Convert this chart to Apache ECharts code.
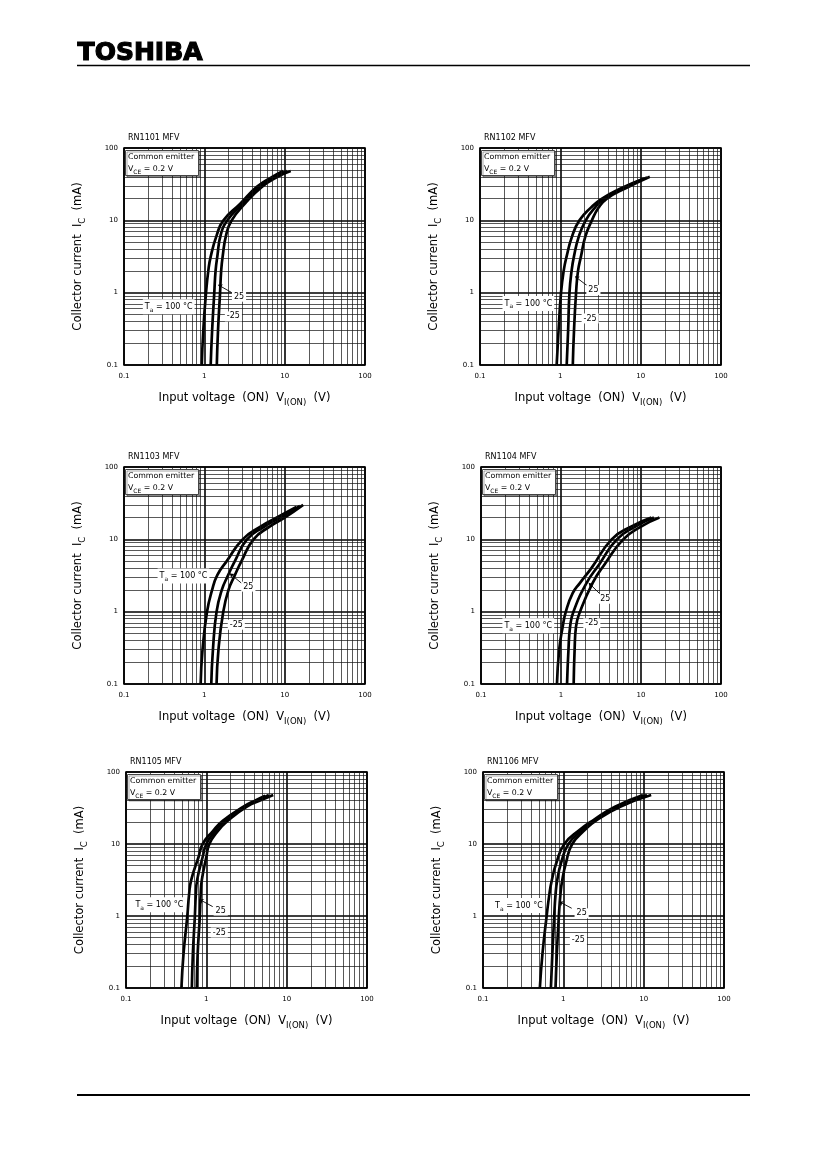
<!DOCTYPE html>
<html>
<head>
<meta charset="utf-8">
<script src="https://cdn.jsdelivr.net/npm/echarts@6/dist/echarts.min.js"></script>
<style>
html, body { margin: 0; padding: 0; background: #fff; }
#main { width: 827px; height: 1169px; }
</style>
</head>
<body>
<div id="main"></div>
<script>
// chart titles and tick labels
var chartNames = ['RN1101 MFV', 'RN1102 MFV', 'RN1103 MFV', 'RN1104 MFV', 'RN1105 MFV', 'RN1106 MFV'];
var xTickLabels = ['0.1', '1', '10', '100'];
var yTickLabels = ['0.1', '1', '10', '100'];
// minor grid values (2..9 of each decade)
var minorTicks = [0.2, 0.3, 0.4, 0.5, 0.6, 0.7, 0.8, 0.9, 2, 3, 4, 5, 6, 7, 8, 9, 20, 30, 40, 50, 60, 70, 80, 90];

// [V_I(ON) (V), I_C (mA)] for Ta = 100, 25, -25
var c1_t100 = [[0.93, 0.1], [0.97, 0.3], [1.05, 1], [1.12, 2], [1.2, 3.15], [1.43, 6.3], [1.73, 10], [2.8, 17], [4.5, 29], [7, 40], [9.6, 48]];
var c1_t25 = [[1.2, 0.1], [1.25, 0.3], [1.33, 1], [1.38, 2], [1.45, 3.15], [1.6, 6.3], [1.94, 10], [3.0, 17], [4.8, 29], [7.5, 40], [10.7, 48]];
var c1_tm25 = [[1.43, 0.1], [1.48, 0.3], [1.57, 1], [1.62, 2], [1.69, 3.15], [1.87, 6.3], [2.19, 10], [3.2, 17], [5.2, 29], [8.2, 40], [11.9, 48]];

var c2_t100 = [[0.9, 0.1], [0.95, 0.3], [1.02, 1], [1.1, 2], [1.2, 3.2], [1.4, 6], [1.73, 10], [2.4, 15], [3.3, 20], [5.8, 28], [11, 38]];
var c2_t25 = [[1.2, 0.1], [1.25, 0.3], [1.3, 1], [1.38, 2], [1.48, 3.2], [1.7, 6], [2.07, 10], [2.7, 15], [3.5, 20], [6.2, 28], [12, 39]];
var c2_tm25 = [[1.43, 0.1], [1.48, 0.3], [1.57, 1], [1.66, 2], [1.81, 3.2], [2.05, 6], [2.47, 10], [3.0, 15], [3.8, 20], [6.6, 28], [13, 40]];

var c3_t100 = [[0.9, 0.1], [0.95, 0.3], [1.08, 1], [1.25, 2], [1.45, 3.2], [1.9, 5], [3.0, 10], [5, 15], [8, 20], [14, 28]];
var c3_t25 = [[1.22, 0.1], [1.28, 0.3], [1.42, 1], [1.65, 2], [1.98, 3.2], [2.4, 5], [3.4, 10], [5.6, 15], [8.8, 20], [15.5, 29]];
var c3_tm25 = [[1.42, 0.1], [1.5, 0.3], [1.72, 1], [2.0, 2], [2.4, 3.2], [2.9, 5], [4.1, 10], [6.5, 15], [10, 20], [17, 30]];

var c4_t100 = [[0.89, 0.1], [0.95, 0.3], [1.05, 0.62], [1.15, 1], [1.4, 1.8], [1.73, 2.5], [2.4, 4], [4.3, 10], [7.5, 15], [13.5, 20]];
var c4_t25 = [[1.19, 0.1], [1.24, 0.3], [1.3, 0.62], [1.43, 1], [2.09, 2.5], [3.0, 4.5], [5.0, 10], [8.5, 15], [14.5, 20]];
var c4_tm25 = [[1.44, 0.1], [1.48, 0.3], [1.54, 0.62], [1.73, 1], [2.49, 2.5], [3.5, 4.5], [6.0, 10], [10, 15], [17, 20]];

var c5_t100 = [[0.49, 0.1], [0.52, 0.3], [0.58, 1], [0.61, 2], [0.65, 3.2], [0.8, 6.6], [0.9, 10], [1.2, 15], [1.6, 21], [2.9, 33], [4.2, 41], [5.4, 47]];
var c5_t25 = [[0.66, 0.1], [0.68, 0.3], [0.72, 1], [0.74, 2], [0.77, 3.2], [0.9, 6.6], [1.0, 10], [1.28, 15], [1.7, 21], [3.0, 33], [4.5, 41], [6.0, 48]];
var c5_tm25 = [[0.76, 0.1], [0.78, 0.3], [0.83, 1], [0.85, 2], [0.88, 3.2], [1.0, 6.6], [1.09, 10], [1.38, 15], [1.85, 21], [3.2, 33], [4.9, 41], [6.8, 48]];

var c6_t100 = [[0.51, 0.1], [0.55, 0.3], [0.62, 1], [0.67, 2], [0.72, 3.16], [0.82, 5.5], [1.03, 10], [1.6, 15.7], [2.37, 21.5], [4.4, 33], [9.8, 48]];
var c6_t25 = [[0.7, 0.1], [0.73, 0.3], [0.77, 1], [0.8, 2], [0.84, 3.16], [0.94, 5.5], [1.16, 10], [1.72, 15.7], [2.48, 21.5], [4.7, 33], [11, 48]];
var c6_tm25 = [[0.8, 0.1], [0.83, 0.3], [0.88, 1], [0.92, 2], [0.97, 3.16], [1.08, 5.5], [1.29, 10], [1.86, 15.7], [2.6, 21.5], [5.1, 33], [12.4, 48]];

var taText = 'T{s|a} = 100 °C';
var text25 = '25';
var textM25 = '-25';

var curves = [
	[c1_t100, c1_t25, c1_tm25],
	[c2_t100, c2_t25, c2_tm25],
	[c3_t100, c3_t25, c3_tm25],
	[c4_t100, c4_t25, c4_tm25],
	[c5_t100, c5_t25, c5_tm25],
	[c6_t100, c6_t25, c6_tm25]
];

// layout: plot boxes in px
var grids = [
	{left: 124, top: 148, width: 241, height: 217},
	{left: 480, top: 148, width: 241, height: 217},
	{left: 124, top: 467, width: 241, height: 217},
	{left: 481, top: 467, width: 240, height: 217},
	{left: 126, top: 772, width: 241, height: 216},
	{left: 483, top: 772, width: 241, height: 216}
];
// where the annotation texts sit (in axis units)
var notePos = [
	{ta: [0.36, 0.64], n25: [2.7, 0.88], nm25: [2.3, 0.47], lead: [[2.2, 1.0], [1.49, 1.28]]},
	{ta: [0.4, 0.71], n25: [2.58, 1.09], nm25: [2.35, 0.44], lead: [[2.24, 1.21], [1.53, 1.67]]},
	{ta: [0.55, 3.1], n25: [3.53, 2.22], nm25: [2.5, 0.66], lead: [[2.92, 2.46], [2.08, 3.36]]},
	{ta: [0.39, 0.64], n25: [3.58, 1.51], nm25: [2.43, 0.69], lead: [[3.1, 1.74], [2.22, 2.5]]},
	{ta: [0.26, 1.43], n25: [1.51, 1.19], nm25: [1.45, 0.59], lead: [[1.2, 1.35], [0.82, 1.7]]},
	{ta: [0.28, 1.4], n25: [1.69, 1.09], nm25: [1.54, 0.46], lead: [[1.27, 1.28], [0.89, 1.58]]}
];

var FONT = '"DejaVu Sans", Verdana, sans-serif';
var myChart = echarts.init(document.getElementById('main'));

var option = {
	backgroundColor: '#fff',
	animation: false,
	title: [],
	grid: [],
	xAxis: [],
	yAxis: [],
	series: [],
	graphic: [
		{type: 'text', left: 77, top: 40, style: {text: 'TOSHIBA', font: 'bold 25px "DejaVu Sans"', fill: '#000', stroke: '#000', lineWidth: 1.2}},
		{type: 'line', shape: {x1: 77, y1: 65.5, x2: 750, y2: 65.5}, style: {stroke: '#000', lineWidth: 1.3}},
		{type: 'line', shape: {x1: 77, y1: 1095, x2: 750, y2: 1095}, style: {stroke: '#000', lineWidth: 2}}
	]
};

grids.forEach(function(g, i) {
	option.grid.push({
		left: g.left, top: g.top, width: g.width, height: g.height,
		show: true, borderColor: '#000', borderWidth: 1.6, backgroundColor: 'transparent',
		outerBoundsMode: 'none'
	});
	option.xAxis.push({
		type: 'log', logBase: 10, gridIndex: i, min: 0.1, max: 100,
		name: 'Input voltage  (ON)  V{s|I(ON)}  (V)',
		nameLocation: 'middle', nameGap: 24, nameMoveOverlap: false,
		nameTextStyle: {
			fontSize: 11.5, color: '#000', fontFamily: FONT,
			rich: {s: {fontSize: 8.5, color: '#000', fontFamily: FONT, verticalAlign: 'bottom', lineHeight: 18}}
		},
		axisLine: {show: false},
		axisTick: {show: false},
		axisLabel: {
			fontSize: 7, color: '#000', fontFamily: FONT, margin: 8,
			formatter: function(v, idx) { return xTickLabels[idx]; }
		},
		splitLine: {show: true, lineStyle: {color: '#000', width: 1.6}}
	});
	option.yAxis.push({
		type: 'log', logBase: 10, gridIndex: i, min: 0.1, max: 100,
		name: 'Collector current  I{s|C}  (mA)',
		nameLocation: 'middle', nameGap: 37, nameRotate: 90, nameMoveOverlap: false,
		nameTextStyle: {
			fontSize: 11.5, color: '#000', fontFamily: FONT,
			rich: {s: {fontSize: 8.5, color: '#000', fontFamily: FONT, verticalAlign: 'bottom', lineHeight: 18}}
		},
		axisLine: {show: false},
		axisTick: {show: false},
		axisLabel: {
			fontSize: 7, color: '#000', fontFamily: FONT, margin: 6,
			formatter: function(v, idx) { return yTickLabels[idx]; }
		},
		splitLine: {show: true, lineStyle: {color: '#000', width: 1.6}}
	});

	// part name above the plot
	option.title.push({
		text: chartNames[i], left: g.left + 4, top: g.top - 14, padding: 0,
		textStyle: {fontSize: 8, fontWeight: 'normal', color: '#000', fontFamily: FONT}
	});
	// condition box
	option.title.push({
		text: '{a|Common emitter}\n{a|V}{s|CE}{a| = 0.2 V}',
		left: g.left + 1, top: g.top + 1, padding: [2, 4, 1, 3],
		borderWidth: 1, borderColor: '#444', backgroundColor: '#fff',
		shadowColor: 'rgba(0,0,0,0.35)', shadowOffsetX: 1.5, shadowOffsetY: 1.5,
		textStyle: {
			fontWeight: 'normal', color: '#000', fontFamily: FONT,
			rich: {
				a: {fontSize: 7.8, color: '#000', fontFamily: FONT, lineHeight: 11},
				s: {fontSize: 6, color: '#000', fontFamily: FONT, verticalAlign: 'bottom', lineHeight: 13}
			}
		}
	});

	// minor grid lines
	var minorData = minorTicks.map(function(v) { return {xAxis: v}; })
		.concat(minorTicks.map(function(v) { return {yAxis: v}; }));
	option.series.push({
		type: 'line', xAxisIndex: i, yAxisIndex: i, data: [], silent: true, z: 1,
		markLine: {
			silent: true, symbol: ['none', 'none'], animation: false,
			label: {show: false},
			lineStyle: {color: '#111', width: 0.7, type: 'solid'},
			emphasis: {disabled: true},
			data: minorData
		}
	});

	// the three temperature curves
	curves[i].forEach(function(c) {
		option.series.push({
			type: 'line', xAxisIndex: i, yAxisIndex: i, data: c,
			showSymbol: false, smooth: 0.5, silent: true, z: 3,
			lineStyle: {color: '#000', width: 2.7}
		});
	});

	// annotations
	var n = notePos[i];
	var labelStyle = {
		show: true, position: 'inside', color: '#000', fontSize: 8, fontFamily: FONT,
		backgroundColor: '#fff', padding: [1, 2],
		rich: {s: {fontSize: 6, color: '#000', fontFamily: FONT, verticalAlign: 'bottom', lineHeight: 13}}
	};
	option.series.push({
		type: 'line', xAxisIndex: i, yAxisIndex: i, data: [], silent: true, z: 5,
		markPoint: {
			symbol: 'rect', symbolSize: 1, silent: true, animation: false,
			itemStyle: {color: 'rgba(0,0,0,0)'},
			label: labelStyle,
			data: [
				{coord: n.ta, label: {formatter: function() { return taText; }}},
				{coord: n.n25, label: {formatter: function() { return text25; }}},
				{coord: n.nm25, label: {formatter: function() { return textM25; }}}
			]
		},
		markLine: {
			silent: true, symbol: ['none', 'arrow'], symbolSize: 4, animation: false,
			label: {show: false},
			lineStyle: {color: '#000', width: 0.9, type: 'solid'},
			data: [[{coord: n.lead[0]}, {coord: n.lead[1]}]]
		}
	});
});

myChart.setOption(option);
</script>
</body>
</html>
